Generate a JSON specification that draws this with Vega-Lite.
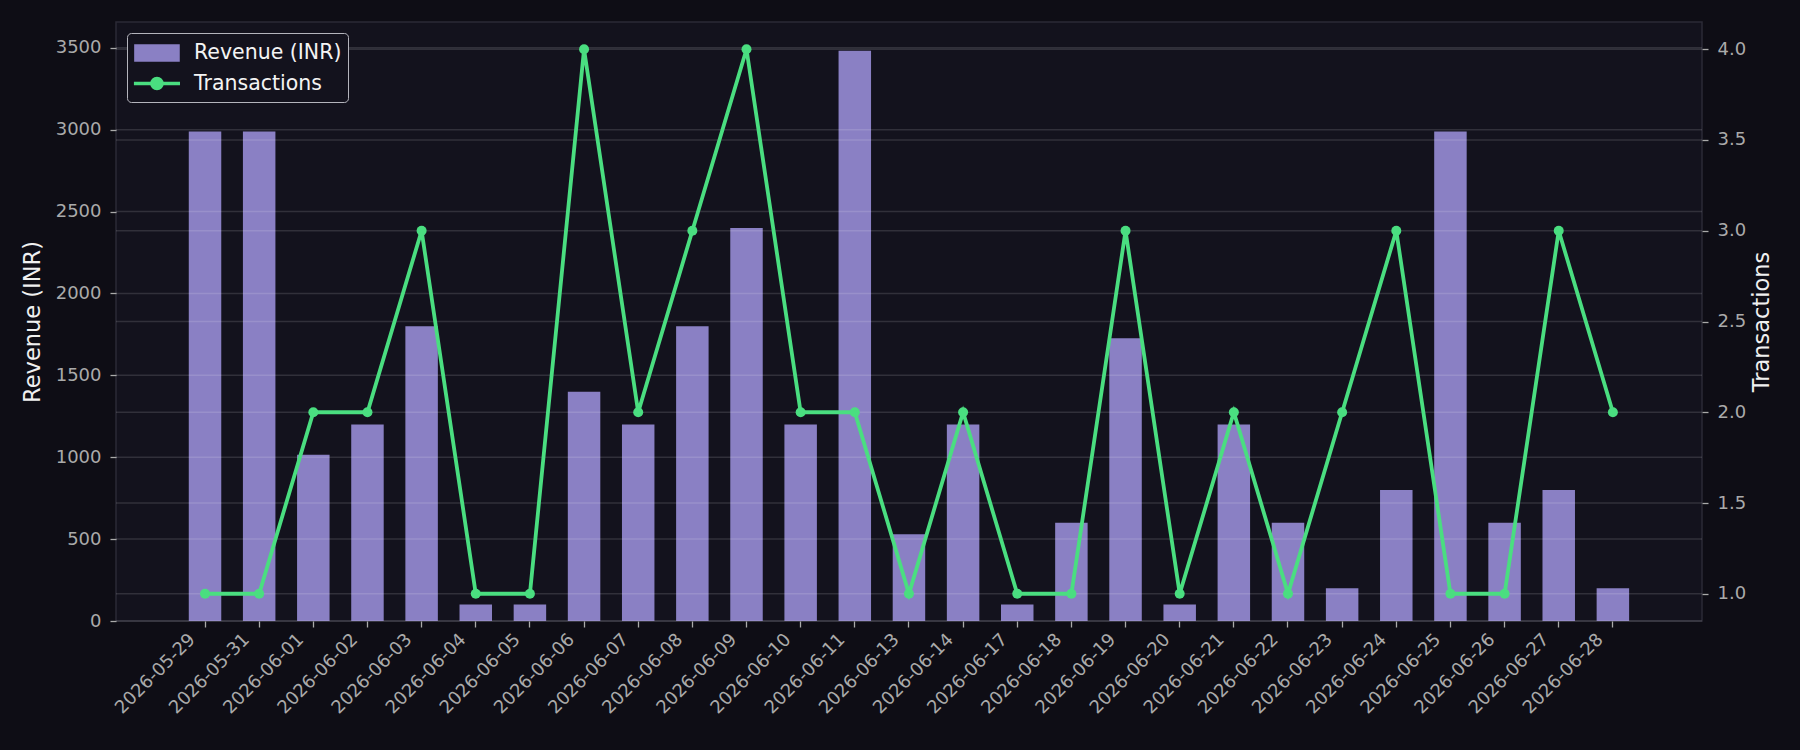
{
  "$schema": "https://vega.github.io/schema/vega-lite/v6.json",
  "width": 1586,
  "height": 599,
  "autosize": {"type": "none"},
  "padding": {"left": 116, "top": 22, "right": 98, "bottom": 129},
  "background": "#0e0d15",
  "config": {
    "font": "DejaVu Sans",
    "view": {"fill": "#13121d", "stroke": "#2b2a36", "strokeWidth": 1.5},
    "axis": {
      "labelFont": "DejaVu Sans",
      "labelFontSize": 18,
      "labelColor": "#aaaaaa",
      "tickColor": "#aaaaaa",
      "tickSize": 6,
      "tickWidth": 1.3,
      "domain": false,
      "grid": false,
      "titleFont": "DejaVu Sans",
      "titleFontSize": 22.5,
      "titleFontWeight": "normal",
      "titleColor": "#f0f0f0"
    },
    "legend": {
      "labelFont": "DejaVu Sans",
      "labelFontSize": 20.5,
      "labelColor": "#f4f4f4"
    }
  },
  "datasets": {
    "sales": [
      {"date": "2026-05-29", "revenue": 2990, "transactions": 1},
      {"date": "2026-05-31", "revenue": 2990, "transactions": 1},
      {"date": "2026-06-01", "revenue": 1015, "transactions": 2},
      {"date": "2026-06-02", "revenue": 1200, "transactions": 2},
      {"date": "2026-06-03", "revenue": 1800, "transactions": 3},
      {"date": "2026-06-04", "revenue": 100, "transactions": 1},
      {"date": "2026-06-05", "revenue": 100, "transactions": 1},
      {"date": "2026-06-06", "revenue": 1400, "transactions": 4},
      {"date": "2026-06-07", "revenue": 1200, "transactions": 2},
      {"date": "2026-06-08", "revenue": 1800, "transactions": 3},
      {"date": "2026-06-09", "revenue": 2400, "transactions": 4},
      {"date": "2026-06-10", "revenue": 1200, "transactions": 2},
      {"date": "2026-06-11", "revenue": 3482, "transactions": 2},
      {"date": "2026-06-13", "revenue": 530, "transactions": 1},
      {"date": "2026-06-14", "revenue": 1200, "transactions": 2},
      {"date": "2026-06-17", "revenue": 100, "transactions": 1},
      {"date": "2026-06-18", "revenue": 600, "transactions": 1},
      {"date": "2026-06-19", "revenue": 1726, "transactions": 3},
      {"date": "2026-06-20", "revenue": 100, "transactions": 1},
      {"date": "2026-06-21", "revenue": 1200, "transactions": 2},
      {"date": "2026-06-22", "revenue": 600, "transactions": 1},
      {"date": "2026-06-23", "revenue": 200, "transactions": 2},
      {"date": "2026-06-24", "revenue": 800, "transactions": 3},
      {"date": "2026-06-25", "revenue": 2990, "transactions": 1},
      {"date": "2026-06-26", "revenue": 600, "transactions": 1},
      {"date": "2026-06-27", "revenue": 800, "transactions": 3},
      {"date": "2026-06-28", "revenue": 200, "transactions": 2}
    ],
    "revenueGrid": [{"v": 0}, {"v": 500}, {"v": 1000}, {"v": 1500}, {"v": 2000}, {"v": 2500}, {"v": 3000}, {"v": 3500}],
    "txGrid": [{"v": 1}, {"v": 1.5}, {"v": 2}, {"v": 2.5}, {"v": 3}, {"v": 3.5}, {"v": 4}]
  },
  "layer": [
    {
      "data": {"name": "sales"},
      "mark": {"type": "bar"},
      "encoding": {
        "x": {
          "field": "date",
          "type": "nominal",
          "sort": null,
          "scale": {"paddingInner": 0.4, "paddingOuter": 0.5, "range": [45.7, 1540.2]},
          "axis": {"title": null, "labelAngle": -45, "labelAlign": "right", "labelBaseline": "bottom", "labelPadding": 16, "labelOffset": -6}
        },
        "y": {
          "field": "revenue",
          "type": "quantitative",
          "scale": {"domain": [0, 3658], "nice": false, "zero": true},
          "axis": {"title": "Revenue (INR)", "orient": "left", "values": [0, 500, 1000, 1500, 2000, 2500, 3000, 3500], "format": "d", "titlePadding": 11, "labelPadding": 9}
        },
        "color": {
          "datum": "Revenue (INR)",
          "scale": {"domain": ["Revenue (INR)", "Transactions"], "range": ["#8a80c4", "#4ade80"]},
          "legend": {
            "title": null,
            "orient": "none",
            "legendX": 11,
            "legendY": 11,
            "padding": 6,
            "fillColor": "#13121d",
            "strokeColor": "#b4b4bc",
            "cornerRadius": 4,
            "symbolSize": 576,
            "rowPadding": 1.5,
            "labelOffset": 33,
            "encode": {
              "symbols": {
                "update": {
                  "shape": {"signal": "datum.value === 'Transactions' ? 'M-1.09,0H2.75M0.41,0A0.42,0.42 0 1,1 1.25,0A0.42,0.42 0 1,1 0.41,0Z' : 'M-0.92,-0.58H2.58V0.58H-0.92Z'"},
                  "fill": {"signal": "datum.value === 'Transactions' ? '#4ade80' : '#8a80c4'"},
                  "stroke": {"signal": "datum.value === 'Transactions' ? '#4ade80' : 'transparent'"},
                  "strokeWidth": {"value": 3.6},
                  "opacity": {"value": 1}
                }
              }
            }
          }
        }
      }
    },
    {
      "data": {"name": "revenueGrid"},
      "mark": {"type": "rule", "color": "#ffffff", "opacity": 0.13, "strokeWidth": 1.5},
      "encoding": {
        "y": {"field": "v", "type": "quantitative", "scale": {"domain": [0, 3658], "nice": false, "zero": true}, "axis": null}
      }
    },
    {
      "data": {"name": "txGrid"},
      "mark": {"type": "rule", "color": "#ffffff", "opacity": 0.13, "strokeWidth": 1.5},
      "encoding": {
        "y": {"field": "v", "type": "quantitative", "scale": {"domain": [0.85, 4.15], "nice": false, "zero": false}, "axis": null}
      }
    },
    {
      "data": {"name": "sales"},
      "mark": {"type": "line", "strokeWidth": 3.8, "point": {"filled": true, "size": 100}},
      "encoding": {
        "x": {"field": "date", "type": "nominal", "sort": null},
        "y": {
          "field": "transactions",
          "type": "quantitative",
          "scale": {"domain": [0.85, 4.15], "nice": false, "zero": false},
          "axis": {"title": "Transactions", "orient": "right", "titleAngle": -90, "titleBaseline": "top", "values": [1, 1.5, 2, 2.5, 3, 3.5, 4], "format": ".1f", "titlePadding": 5, "labelPadding": 9}
        },
        "color": {
          "datum": "Transactions",
          "legend": {
            "title": null,
            "orient": "none",
            "legendX": 11,
            "legendY": 11,
            "padding": 6,
            "fillColor": "#13121d",
            "strokeColor": "#b4b4bc",
            "cornerRadius": 4,
            "symbolSize": 576,
            "rowPadding": 1.5,
            "labelOffset": 33,
            "encode": {
              "symbols": {
                "update": {
                  "shape": {"signal": "datum.value === 'Transactions' ? 'M-1.09,0H2.75M0.41,0A0.42,0.42 0 1,1 1.25,0A0.42,0.42 0 1,1 0.41,0Z' : 'M-0.92,-0.58H2.58V0.58H-0.92Z'"},
                  "fill": {"signal": "datum.value === 'Transactions' ? '#4ade80' : '#8a80c4'"},
                  "stroke": {"signal": "datum.value === 'Transactions' ? '#4ade80' : 'transparent'"},
                  "strokeWidth": {"value": 3.6},
                  "opacity": {"value": 1}
                }
              }
            }
          }
        }
      }
    }
  ],
  "resolve": {"scale": {"y": "independent"}}
}
